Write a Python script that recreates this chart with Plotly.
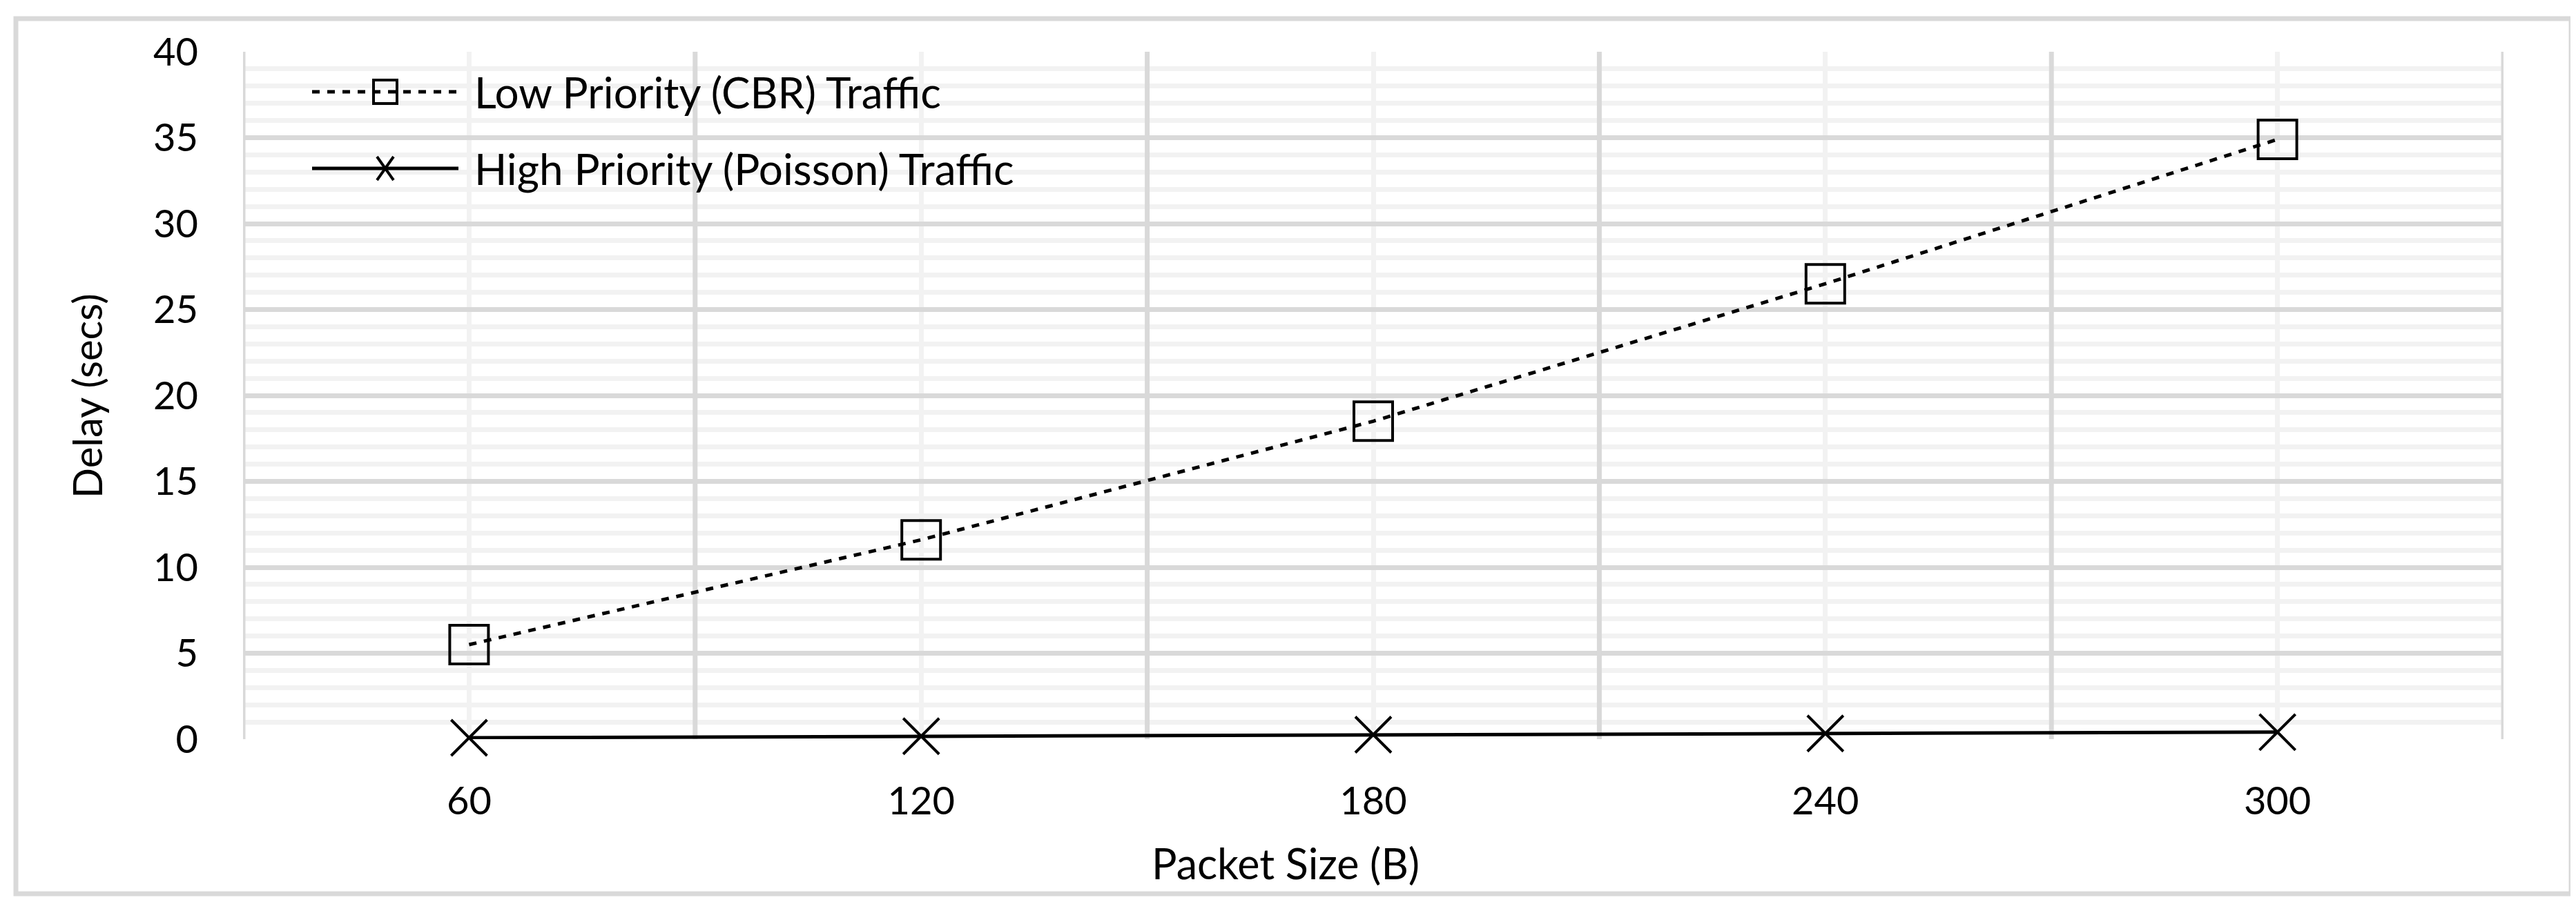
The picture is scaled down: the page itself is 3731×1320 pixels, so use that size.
import plotly.graph_objects as go

# ---- data ----
packet_sizes = [60, 120, 180, 240, 300]
low_priority_cbr = [5.5, 11.6, 18.5, 26.5, 34.9]
high_priority_poisson = [0.08, 0.17, 0.26, 0.33, 0.41]
series_names = ["Low Priority (CBR) Traffic", "High Priority (Poisson) Traffic"]
x_title = "Packet Size (B)"
y_title = "Delay (secs)"
y_range = [0, 40]

# ---- layout geometry (pixels, in the 3731x1320 page) ----
OFF = 8                      # default body margin of the html page
W, H = 3731 - OFF, 1320 - 2 * OFF
PL, PR, PT, PB = 352, 3626, 75, 1071   # plot area edges in page pixels
ML, MT = PL - OFF, PT - OFF
MR = W - (PR - OFF)
MB = H - (PB - OFF)
PW = W - ML - MR
PH = H - MT - MB


def px_x(p):
    return (p - OFF - ML) / PW


def px_y(p):
    return (MT + PH - (p - OFF)) / PH


FONT = "Lato, Carlito, Calibri, sans-serif"
TICK_FS = 56
TITLE_FS = 61
LEG_FS = 62
GRID_MAJOR = "#d9d9d9"
GRID_MINOR = "#f2f2f2"
DOT = "11px,11px"

fig = go.Figure()

fig.add_trace(go.Scatter(
    x=packet_sizes, y=low_priority_cbr, name=series_names[0],
    mode="lines+markers", cliponaxis=False,
    line=dict(color="black", width=5, dash=DOT),
    marker=dict(symbol="square-open", size=56, color="black",
                line=dict(color="black", width=4)),
    showlegend=False,
))
fig.add_trace(go.Scatter(
    x=packet_sizes, y=high_priority_poisson, name=series_names[1],
    mode="lines+markers", cliponaxis=False,
    line=dict(color="black", width=5),
    marker=dict(symbol="x-thin-open", size=52, color="black",
                line=dict(color="black", width=4)),
    showlegend=False,
))

step = packet_sizes[1] - packet_sizes[0]

fig.update_xaxes(
    range=[packet_sizes[0] - step / 2, packet_sizes[-1] + step / 2],
    tickmode="array", tickvals=packet_sizes,
    ticktext=[str(v) for v in packet_sizes],
    showgrid=True, gridcolor=GRID_MINOR, gridwidth=7,
    zeroline=False, showline=False, ticks="",
    ticklabelstandoff=52, automargin=False,
    tickfont=dict(family=FONT, size=TICK_FS, color="black"),
)
fig.update_yaxes(
    range=y_range, dtick=5, tick0=0,
    showgrid=True, gridcolor=GRID_MAJOR, gridwidth=7,
    minor=dict(dtick=1, showgrid=True, gridcolor=GRID_MINOR, gridwidth=7),
    zeroline=False, showline=False, ticks="",
    ticklabelstandoff=64, automargin=False,
    tickfont=dict(family=FONT, size=TICK_FS, color="black"),
)

shapes = []
annotations = []

# category boundary gridlines (darker), drawn above the light gridlines
bounds = [packet_sizes[0] - step / 2] + [v + step / 2 for v in packet_sizes]
for b in bounds:
    shapes.append(dict(type="line", xref="x", yref="y", x0=b, x1=b,
                       y0=y_range[0], y1=y_range[1],
                       line=dict(color=GRID_MAJOR, width=7), layer="between"))

# outer chart border
shapes.append(dict(type="rect", xref="paper", yref="paper",
                   x0=px_x(23), x1=px_x(3724), y0=px_y(1295), y1=px_y(27),
                   line=dict(color=GRID_MAJOR, width=7), layer="below"))

# axis titles
annotations.append(dict(text=x_title, xref="paper", yref="paper",
                        x=px_x(1862), y=px_y(1250), xanchor="center", yanchor="middle",
                        showarrow=False, font=dict(family=FONT, size=TITLE_FS, color="black")))
annotations.append(dict(text=y_title, xref="paper", yref="paper",
                        x=px_x(125), y=0.5, xanchor="center", yanchor="middle",
                        textangle=-90, showarrow=False,
                        font=dict(family=FONT, size=58, color="black")))

# legend (drawn inside plot, top-left)
leg_rows = [133, 244]
lx0, lx1, lmx, ltx = 452, 664, 558, 685
for i, name in enumerate(series_names):
    yy = px_y(leg_rows[i])
    shapes.append(dict(type="line", xref="paper", yref="paper",
                       x0=px_x(lx0), x1=px_x(lx1), y0=yy, y1=yy,
                       line=dict(color="black", width=5, dash=DOT if i == 0 else "solid"),
                       layer="above"))
    if i == 0:
        shapes.append(dict(type="rect", xref="paper", yref="paper",
                           xsizemode="pixel", ysizemode="pixel",
                           xanchor=px_x(lmx), yanchor=yy,
                           x0=-17, x1=17, y0=-17, y1=17,
                           line=dict(color="black", width=4), layer="above"))
    else:
        shapes.append(dict(type="path", xref="paper", yref="paper",
                           xsizemode="pixel", ysizemode="pixel",
                           xanchor=px_x(lmx), yanchor=yy,
                           path="M-12,-17 L12,17 M-12,17 L12,-17",
                           line=dict(color="black", width=4), layer="above"))
    annotations.append(dict(text=name, xref="paper", yref="paper",
                            x=px_x(ltx), y=yy, xanchor="left", yanchor="middle",
                            showarrow=False,
                            font=dict(family=FONT, size=LEG_FS, color="black")))

fig.update_layout(
    width=W, height=H,
    margin=dict(l=ML, r=MR, t=MT, b=MB, autoexpand=False),
    paper_bgcolor="white", plot_bgcolor="white",
    shapes=shapes, annotations=annotations,
    showlegend=False,
    font=dict(family=FONT, size=TICK_FS, color="black"),
)

fig.write_html("out.html")
